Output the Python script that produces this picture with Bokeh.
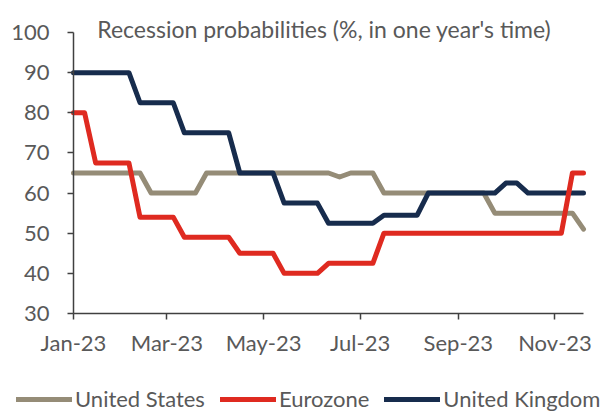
from datetime import datetime, timedelta
from bokeh.plotting import figure
from bokeh.models import (Range1d, DatetimeTickFormatter, MonthsTicker, FixedTicker,
                          Legend, LegendItem, Label, ColumnDataSource)
from bokeh.embed import file_html
from bokeh.resources import INLINE

# ---- data (weekly readings, 2023) ----
start_date = datetime(2023, 1, 1)
n_weeks = 47
dates = [start_date + timedelta(days=7 * i) for i in range(n_weeks)]

united_states = [65, 65, 65, 65, 65, 65, 65, 60, 60, 60, 60, 60,
                 65, 65, 65, 65, 65, 65, 65, 65, 65, 65, 65, 65,
                 64, 65, 65, 65, 60, 60, 60, 60, 60, 60, 60, 60,
                 60, 60, 55, 55, 55, 55, 55, 55, 55, 55, 51]
eurozone = [80, 80, 67.5, 67.5, 67.5, 67.5, 54, 54, 54, 54, 49, 49,
            49, 49, 49, 45, 45, 45, 45, 40, 40, 40, 40, 42.5,
            42.5, 42.5, 42.5, 42.5, 50, 50, 50, 50, 50, 50, 50, 50,
            50, 50, 50, 50, 50, 50, 50, 50, 50, 65, 65]
united_kingdom = [90, 90, 90, 90, 90, 90, 82.5, 82.5, 82.5, 82.5, 75, 75,
                  75, 75, 75, 65, 65, 65, 65, 57.5, 57.5, 57.5, 57.5, 52.5,
                  52.5, 52.5, 52.5, 52.5, 54.5, 54.5, 54.5, 54.5, 60, 60, 60, 60,
                  60, 60, 60, 62.5, 62.5, 60, 60, 60, 60, 60, 60]

series_names = ["United States", "Eurozone", "United Kingdom"]
series_colors = ["#958C77", "#DF2A20", "#172C4D"]
y_min, y_max = 30, 100
y_ticks = [30, 40, 50, 60, 70, 80, 90, 100]
title_text = "Recession probabilities (%, in one year's time)"

FONT = "Lato"
TXT = "#595959"


def ms(d):
    return (d - datetime(1970, 1, 1)).total_seconds() * 1000.0


W, H = 606, 412
# where the axes box sits on the canvas (pixels)
left_px, right_px, top_px, bottom_px = 73, 583, 32, 313
x0, x1 = dates[0], dates[-1]
days_span = (x1 - x0).total_seconds() / 86400
px_per_day = (right_px - left_px) / days_span
px_per_unit = (bottom_px - top_px) / (y_max - y_min)
x_range = Range1d(start=ms(x0 - timedelta(days=left_px / px_per_day)),
                  end=ms(x1 + timedelta(days=(W - right_px) / px_per_day)))
y_range = Range1d(start=y_min - (H - bottom_px) / px_per_unit,
                  end=y_max + top_px / px_per_unit)

p = figure(width=W, height=H, output_backend="svg", toolbar_location=None,
           x_axis_type="datetime", x_range=x_range, y_range=y_range,
           min_border=0)
p.outline_line_color = None
p.grid.grid_line_color = None
p.background_fill_color = "white"
p.border_fill_color = "white"

src = ColumnDataSource(dict(date=dates, us=united_states, ez=eurozone, uk=united_kingdom))
r_us = p.line("date", "us", source=src, line_color=series_colors[0], line_width=5,
              line_cap="round", line_join="round")
r_uk = p.line("date", "uk", source=src, line_color=series_colors[2], line_width=5,
              line_cap="round", line_join="round")
r_ez = p.line("date", "ez", source=src, line_color=series_colors[1], line_width=5,
              line_cap="round", line_join="round")

# axes pinned to the data box
for ax in (p.xaxis[0], p.yaxis[0]):
    ax.axis_line_color = "#404040"
    ax.axis_line_width = 1.5
    ax.major_tick_line_color = "#404040"
    ax.major_tick_line_width = 1.5
    ax.major_tick_out = 6
    ax.major_tick_in = 0
    ax.minor_tick_line_color = None
    ax.major_label_text_font = FONT
    ax.major_label_text_font_size = "22px"
    ax.major_label_text_color = TXT

p.xaxis.fixed_location = y_min
p.xaxis.bounds = (ms(x0), ms(x1))
p.xaxis.ticker = MonthsTicker(months=[0, 2, 4, 6, 8, 10])
p.xaxis.formatter = DatetimeTickFormatter(months="%b-%y", days="%b-%y")
p.xaxis.major_label_standoff = 9

p.yaxis.fixed_location = ms(x0)
p.yaxis.bounds = (y_min, y_max)
p.yaxis.ticker = FixedTicker(ticks=y_ticks)
p.yaxis.major_label_standoff = 18

# title inside the plot
p.add_layout(Label(x=ms(x0 + timedelta(days=15)), y=100.8, text=title_text,
                   text_font=FONT, text_font_size="23px", text_color=TXT,
                   text_baseline="alphabetic"))

legend = Legend(items=[LegendItem(label=series_names[0], renderers=[r_us]),
                       LegendItem(label=series_names[1], renderers=[r_ez]),
                       LegendItem(label=series_names[2], renderers=[r_uk])],
                location=(16, 0), orientation="horizontal",
                glyph_width=56, glyph_height=20, label_standoff=3, spacing=15,
                padding=0, margin=0, border_line_color=None,
                background_fill_alpha=0,
                label_text_font=FONT, label_text_font_size="22px",
                label_text_color=TXT, label_height=20)
p.add_layout(legend, "center")

open("out.html", "w").write(file_html(p, INLINE))
